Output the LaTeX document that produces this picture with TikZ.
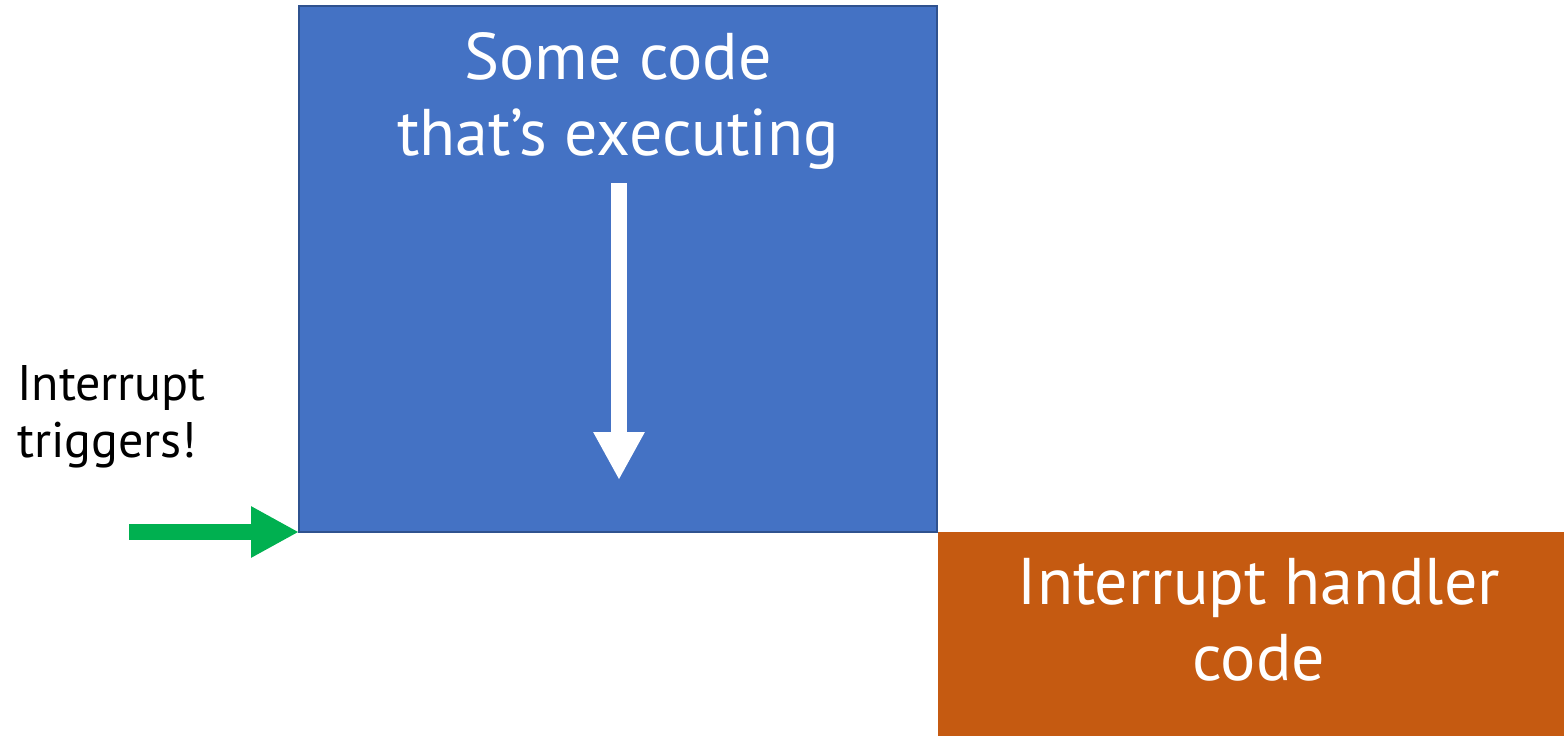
\documentclass[tikz,border=0pt]{standalone}
\usepackage{fontspec}
\setmainfont{PT Sans}
\usetikzlibrary{arrows.meta}
\definecolor{boxblue}{HTML}{4472C4}
\definecolor{boxblueedge}{HTML}{2F528F}
\definecolor{boxorange}{HTML}{C55A11}
\definecolor{arrowgreen}{HTML}{00B050}
\tikzset{
  bigtext/.style={font=\fontsize{66}{76}\selectfont, text=white, align=center, inner sep=0pt},
  smalltext/.style={font=\fontsize{50}{57}\selectfont, text=black, align=left, inner sep=0pt},
  fatarrow/.style={line width=16pt, -{Triangle[width=48pt,length=48pt]}},
}
\begin{document}
\begin{tikzpicture}[x=1pt,y=-1pt]
\useasboundingbox (0,0) rectangle (1564,736);
\fill[white] (0,0) rectangle (1564,736);
% blue box
\node[draw=boxblueedge, line width=2pt, fill=boxblue, rectangle, minimum width=638pt, minimum height=526pt, inner sep=0pt, outer sep=0pt, anchor=north west] (code) at (299,6) {};
\node[bigtext, anchor=north] (codetxt) at (618,32) {Some code\\that’s executing};
% orange box
\node[fill=boxorange, rectangle, minimum width=640pt, minimum height=220pt, inner sep=0pt, outer sep=0pt, anchor=north west] (handler) at (938,532) {};
\node[bigtext, anchor=north] (handlertxt) at (1259,558) {Interrupt handler\\code};
% white execution arrow
\coordinate (wstart) at (619,183);
\coordinate (wend) at (619,480);
\draw[fatarrow, white] (wstart) -- (wend);
% trigger label and arrow
\node[smalltext, anchor=north west] (trig) at (17,365) {Interrupt\\triggers!};
\coordinate (gstart) at (129,532);
\draw[fatarrow, arrowgreen] (gstart) -- (code.south west);
\end{tikzpicture}
\end{document}
